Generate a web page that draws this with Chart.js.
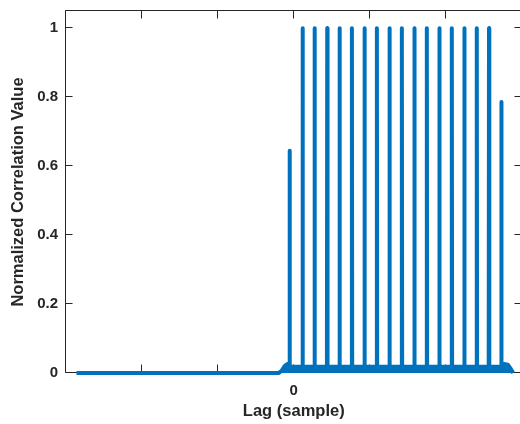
<!DOCTYPE html>
<html>
<head>
<meta charset="utf-8">
<script src="https://cdn.jsdelivr.net/npm/chart.js@4/dist/chart.umd.min.js"></script>
<style>
  html, body { margin: 0; padding: 0; background: #ffffff; overflow: hidden; }
  #wrap { width: 530px; height: 424px; }
</style>
</head>
<body>
<div id="wrap"><canvas id="c" width="530" height="424"></canvas></div>
<script>
// ---- data ----
const lagTicks = [-3000, -2000, -1000, 0, 1000, 2000, 3000];
const lagTickLabels = ['', '', '', '0', '', '', ''];
const corrTicks = [0, 0.2, 0.4, 0.6, 0.8, 1];
const corrTickLabels = ['0', '0.2', '0.4', '0.6', '0.8', '1'];

// correlation peaks (lag in samples, normalized value)
const spikeLags = [-55, 116, 274, 441, 603, 766, 932, 1095, 1261, 1424, 1589, 1753, 1918, 2082, 2247, 2411, 2572, 2734];
const spikePeaks = [0.645, 1, 1, 1, 1, 1, 1, 1, 1, 1, 1, 1, 1, 1, 1, 1, 1, 0.786];
const spikeFloor = 0.018;   // noise level between peaks
const spikeHalfWidth = 4;   // samples

// low-level correlation outside the peaks
const floorLags = [-2862, -200, -160, -120, -85, 2770, 2820, 2860, 2890];
const floorValues = [0, 0, 0.006, 0.02, 0.026, 0.026, 0.024, 0.012, 0];

// ---- build the series ----
const points = floorLags.map((x, i) => ({ x: x, y: floorValues[i] }));
spikeLags.forEach((s, i) => {
  points.push({ x: s - spikeHalfWidth, y: spikeFloor });
  points.push({ x: s, y: spikePeaks[i] });
  points.push({ x: s + spikeHalfWidth, y: spikeFloor });
});
points.sort((a, b) => a.x - b.x);

const FONT = "'Liberation Sans', Arial, Helvetica, sans-serif";
const INK = '#262626';
const BLUE = '#0072BD';

const axesBox = {
  id: 'axesBox',
  beforeDatasetsDraw(chart) {
    const { ctx, chartArea: a, scales } = chart;
    ctx.save();
    ctx.strokeStyle = INK;
    ctx.lineWidth = 1;
    const L = Math.round(a.left) - 0.5, R = Math.round(a.right) - 0.5;
    const T = Math.round(a.top) - 0.5, B = Math.round(a.bottom) - 0.5;
    ctx.beginPath();
    ctx.moveTo(L, T); ctx.lineTo(R, T); ctx.lineTo(R, B); ctx.lineTo(L, B); ctx.closePath();
    ctx.stroke();
    ctx.beginPath();
    corrTicks.forEach(v => {
      const y = Math.round(scales.y.getPixelForValue(v)) - 0.5;
      ctx.moveTo(L, y); ctx.lineTo(L + 7, y);
      ctx.moveTo(R, y); ctx.lineTo(R - 7, y);
    });
    lagTicks.forEach(v => {
      const x = Math.round(scales.x.getPixelForValue(v)) - 0.5;
      ctx.moveTo(x, B); ctx.lineTo(x, B - 8);
      ctx.moveTo(x, T); ctx.lineTo(x, T + 8);
    });
    ctx.stroke();
    ctx.restore();
  }
};

new Chart(document.getElementById('c'), {
  type: 'line',
  data: {
    datasets: [{
      data: points,
      borderColor: BLUE,
      backgroundColor: BLUE,
      borderWidth: 4,
      fill: 'origin',
      pointRadius: 0,
      tension: 0,
      borderJoinStyle: 'round',
      borderCapStyle: 'butt',
      clip: false
    }]
  },
  options: {
    responsive: false,
    devicePixelRatio: 1,
    animation: false,
    events: [],
    layout: { padding: { top: 11, right: 8.5, left: 0, bottom: 0 } },
    plugins: { legend: { display: false }, tooltip: { enabled: false } },
    scales: {
      x: {
        type: 'linear',
        min: -3000, max: 3000,
        grid: { display: false, drawTicks: false },
        border: { display: false },
        afterBuildTicks: s => { s.ticks = lagTicks.map(v => ({ value: v })); },
        afterFit: s => { s.height = 51; s.paddingLeft = 0; s.paddingRight = 0; },
        ticks: {
          autoSkip: false, maxRotation: 0, minRotation: 0, padding: 9,
          color: INK, font: { family: FONT, size: 15, weight: 'bold' },
          callback: (v, i) => lagTickLabels[i]
        },
        title: {
          display: true, text: 'Lag (sample)', color: INK,
          font: { family: FONT, size: 16.5, weight: 'bold' },
          padding: { top: 0, bottom: 3 }
        }
      },
      y: {
        type: 'linear',
        min: 0, max: 1.05,
        grid: { display: false, drawTicks: false },
        border: { display: false },
        afterBuildTicks: s => { s.ticks = corrTicks.map(v => ({ value: v })); },
        afterFit: s => { s.width = 66; s.paddingTop = 0; s.paddingBottom = 0; },
        ticks: {
          autoSkip: false, padding: 8,
          color: INK, font: { family: FONT, size: 15, weight: 'bold' },
          callback: (v, i) => corrTickLabels[i]
        },
        title: {
          display: true, text: 'Normalized Correlation Value', color: INK,
          font: { family: FONT, size: 16.5, weight: 'bold' },
          padding: { top: 9, bottom: 0 }
        }
      }
    }
  },
  plugins: [axesBox]
});
</script>
</body>
</html>
